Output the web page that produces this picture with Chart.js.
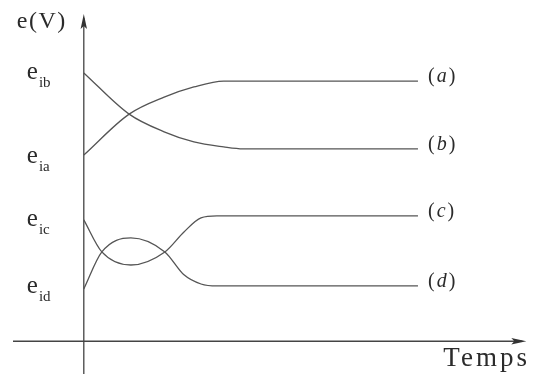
<!DOCTYPE html>
<html>
<head>
<meta charset="utf-8">
<script src="https://cdn.jsdelivr.net/npm/chart.js@4"></script>
<style>
  html, body { margin: 0; padding: 0; background: #fff; }
  #wrap { width: 544px; height: 374px; }
</style>
</head>
<body>
<div id="wrap"><canvas id="chart"></canvas></div>
<script>
// curve names and the initial values marked on the vertical axis
const curveNames = ['a', 'b', 'c', 'd'];
const tickSubs = ['ib', 'ia', 'ic', 'id'];
const tickValues = [8.20, 5.63, 3.71, 1.66];

// (time in arbitrary units, e in arbitrary volts)
const timeA = [0, 1.28, 2.27, 3.11, 3.95, 9.44];
const curveA = [5.69, 6.94, 7.46, 7.77, 7.95, 7.95];
const timeB = [0, 1.28, 2.27, 3.11, 3.95, 4.5, 9.44];
const curveB = [8.20, 6.94, 6.40, 6.09, 5.94, 5.88, 5.88];
const timeC = [0, 0.51, 1.33, 2.29, 2.83, 3.31, 3.76, 9.44];
const curveC = [3.71, 2.73, 2.33, 2.73, 3.34, 3.77, 3.83, 3.83];
const timeD = [0, 0.51, 1.33, 2.29, 2.83, 3.31, 3.76, 9.44];
const curveD = [1.60, 2.73, 3.16, 2.73, 2.03, 1.75, 1.69, 1.69];

const xTitle = 'Temps';
const yTitle = 'e(V)';

const ink = '#2b2b2b';
const lineCol = '#555';
const serif = '"Liberation Serif", "DejaVu Serif", serif';

function toPoints(ts, vs) {
  return ts.map((t, i) => ({ x: t, y: vs[i] }));
}

const series = [[timeA, curveA], [timeB, curveB], [timeC, curveC], [timeD, curveD]];

const datasets = series.map(([ts, vs], i) => ({
  label: curveNames[i],
  data: toPoints(ts, vs),
  borderColor: lineCol,
  borderWidth: 1.3,
  pointRadius: 0,
  fill: false,
  cubicInterpolationMode: 'monotone'
}));

function arrow(ctx, x, y, dir) {
  // dir: 'up' or 'right'
  ctx.beginPath();
  if (dir === 'up') {
    ctx.moveTo(x, y);
    ctx.lineTo(x - 3.2, y + 15);
    ctx.lineTo(x, y + 12);
    ctx.lineTo(x + 3.2, y + 15);
  } else {
    ctx.moveTo(x, y);
    ctx.lineTo(x - 15, y - 3.2);
    ctx.lineTo(x - 12, y);
    ctx.lineTo(x - 15, y + 3.2);
  }
  ctx.closePath();
  ctx.fill();
}

const axesPlugin = {
  id: 'axesPlugin',
  beforeDatasetsDraw(chart) {
    const { ctx, chartArea, scales } = chart;
    const x0 = scales.x.getPixelForValue(0);
    const y0 = scales.y.getPixelForValue(0);
    ctx.save();
    ctx.strokeStyle = '#444';
    ctx.fillStyle = '#333';
    ctx.lineWidth = 1.3;
    ctx.beginPath();
    ctx.moveTo(chartArea.left, y0);
    ctx.lineTo(chartArea.right - 4, y0);
    ctx.moveTo(x0, chartArea.bottom);
    ctx.lineTo(x0, chartArea.top + 4);
    ctx.stroke();
    arrow(ctx, chartArea.right, y0, 'right');
    arrow(ctx, x0, chartArea.top, 'up');
    ctx.restore();
  },
  afterDraw(chart) {
    const { ctx, chartArea, scales } = chart;
    const x0 = scales.x.getPixelForValue(0);
    const y0 = scales.y.getPixelForValue(0);
    ctx.save();
    ctx.fillStyle = ink;
    ctx.textBaseline = 'alphabetic';
    ctx.textAlign = 'left';

    // tick labels e with subscript
    tickValues.forEach((v, i) => {
      const py = scales.y.getPixelForValue(v);
      ctx.font = '25px ' + serif;
      ctx.fillText('e', x0 - 57, py + 6);
      const w = ctx.measureText('e').width;
      ctx.font = '15px ' + serif;
      ctx.fillText(tickSubs[i], x0 - 57 + w + 1, py + 14);
    });

    // axis titles
    ctx.font = '24px ' + serif;
    ctx.letterSpacing = '1.5px';
    ctx.fillText(yTitle, x0 - 67, chartArea.top + 14);
    ctx.font = '27px ' + serif;
    ctx.letterSpacing = '3px';
    ctx.fillText(xTitle, chartArea.right - 83, y0 + 25);
    ctx.letterSpacing = '0px';

    // curve names at the end of each line
    chart.data.datasets.forEach(ds => {
      const last = ds.data[ds.data.length - 1];
      let px = scales.x.getPixelForValue(last.x) + 10;
      const py = scales.y.getPixelForValue(last.y) + 1;
      ctx.font = '20px ' + serif;
      ctx.fillText('(', px, py);
      px += ctx.measureText('(').width + 2;
      ctx.font = 'italic 20px ' + serif;
      ctx.fillText(ds.label, px, py);
      px += ctx.measureText(ds.label).width + 2;
      ctx.font = '20px ' + serif;
      ctx.fillText(')', px, py);
    });
    ctx.restore();
  }
};

new Chart(document.getElementById('chart'), {
  type: 'line',
  data: { datasets },
  options: {
    responsive: true,
    maintainAspectRatio: false,
    animation: false,
    layout: { padding: { left: 13, right: 17.7, top: 14, bottom: 0 } },
    plugins: { legend: { display: false }, tooltip: { enabled: false } },
    scales: {
      x: { type: 'linear', min: -2, max: 12.5, display: false },
      y: { type: 'linear', min: -1, max: 10, display: false }
    }
  },
  plugins: [axesPlugin]
});
</script>
</body>
</html>
